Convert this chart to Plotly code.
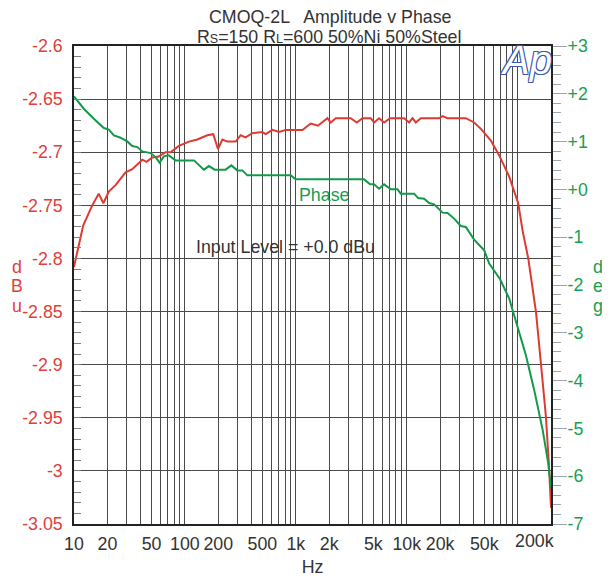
import math
import plotly.graph_objects as go

# ---- data ----
amp_freq = [10, 12.1, 14.6, 16.7, 18.4, 20.6, 23.7, 29.2, 33.5, 41.3,
            45.1, 50.8, 58.2, 66.9, 74.3, 88.3, 108.7, 129.4, 159.2, 180.3,
            198.6, 217.6, 241.5, 287, 318.5, 353, 405.7, 500, 535, 615,
            705, 811, 1148, 1362, 1585, 1927, 2065, 2291, 3128, 3546,
            3990, 4743, 5080, 5635, 6252, 7083, 9480, 10520, 11280, 12080,
            13400, 19600, 21030, 23330, 34120, 40550, 46640, 57410, 68230, 83970,
            101200, 111000, 124700, 146300, 162300, 180000, 192800, 200000]
amp_dbu = [-2.808, -2.769, -2.750, -2.739, -2.748, -2.737, -2.731, -2.719, -2.716, -2.707,
           -2.709, -2.705, -2.704, -2.700, -2.700, -2.694, -2.690, -2.688, -2.684, -2.683,
           -2.697, -2.688, -2.690, -2.690, -2.684, -2.686, -2.682, -2.681, -2.683, -2.679,
           -2.681, -2.679, -2.679, -2.673, -2.675, -2.668, -2.672, -2.668, -2.668, -2.672,
           -2.668, -2.668, -2.672, -2.668, -2.672, -2.668, -2.668, -2.672, -2.668, -2.672,
           -2.668, -2.668, -2.666, -2.668, -2.668, -2.672, -2.678, -2.689, -2.703, -2.723,
           -2.748, -2.774, -2.800, -2.850, -2.899, -2.949, -2.999, -3.035]

phase_freq = [10, 12.25, 15.1, 18.6, 20.6, 22.9, 26.3, 30.2, 33.5, 37.2,
              41.3, 49.0, 54.4, 59.1, 64.6, 71.7, 82.4, 120.6, 148.4, 164.7,
              185.4, 232.9, 262.2, 297, 329.6, 365.6, 899, 997, 4126, 4674,
              5080, 5635, 6252, 7180, 8255, 8845, 11670, 12680, 14360, 15930,
              17670, 21030, 23330, 26780, 30770, 34120, 40550, 49990, 55450, 69700,
              83970, 103300, 118800, 141200, 168300, 188900, 200000]
phase_deg = [1.945, 1.688, 1.479, 1.283, 1.250, 1.130, 1.082, 1.004, 0.906, 0.885,
             0.795, 0.760, 0.676, 0.559, 0.691, 0.712, 0.607, 0.607, 0.413, 0.488,
             0.413, 0.413, 0.503, 0.398, 0.398, 0.294, 0.294, 0.210, 0.210, 0.106,
             0.106, 0.016, 0.106, 0.001, 0.001, -0.089, -0.089, -0.181, -0.193, -0.285,
             -0.312, -0.486, -0.494, -0.611, -0.766, -0.787, -1.050, -1.274, -1.552, -1.886,
             -2.283, -3.015, -3.468, -4.200, -5.036, -5.732, -6.25]

x_tickvals = [10, 20, 50, 100, 200, 500, 1000, 2000, 5000, 10000, 20000, 50000, 200000]
x_ticktext = ["10", "20", "50", "100", "200", "500", "1k", "2k", "5k", "10k", "20k", "50k", "200k"]

y1_tickvals = [-2.6, -2.65, -2.7, -2.75, -2.8, -2.85, -2.9, -2.95, -3.0, -3.05]
y1_ticktext = ["-2.6", "-2.65", "-2.7", "-2.75", "-2.8", "-2.85", "-2.9", "-2.95", "-3", "-3.05"]

y2_tickvals = [3, 2, 1, 0, -1, -2, -3, -4, -5, -6, -7]
y2_ticktext = ["+3", "+2", "+1", "+0", "-1", "-2", "-3", "-4", "-5", "-6", "-7"]

# ---- styling ----
FONT = "Liberation Sans, Arial, sans-serif"
FS = 17.8
RED = "#dd3a32"
RED_TXT = "#e0403a"
GREEN = "#119a48"
GREEN_TXT = "#17a04e"
GRID = "#4a4a4a"
TXT = "#333333"

# minor vertical gridlines: every 1..9 multiple of each decade not already labelled
x_minor = [m * 10 ** d for d in range(1, 6) for m in range(1, 10)
           if m * 10 ** d <= 200000 and m * 10 ** d not in x_tickvals]

# the last tick label sits left-shifted against the right edge, as in the reference
axis_tickvals = x_tickvals[:-1]
axis_ticktext = x_ticktext[:-1]

fig = go.Figure()
fig.add_trace(go.Scatter(x=amp_freq, y=amp_dbu, mode="lines",
                         line=dict(color=RED, width=2), yaxis="y", showlegend=False))
fig.add_trace(go.Scatter(x=phase_freq, y=phase_deg, mode="lines",
                         line=dict(color=GREEN, width=2), yaxis="y2", showlegend=False))

# page body adds an 8px margin, so the figure is 8px smaller than the window
fig.update_layout(
    width=602, height=569,
    margin=dict(l=65.5, r=59, t=37.5, b=53, autoexpand=False),
    paper_bgcolor="white", plot_bgcolor="white",
    font=dict(family=FONT, size=FS, color=TXT),
    showlegend=False,
    xaxis=dict(
        type="log", range=[1, math.log10(x_tickvals[-1])], automargin=False,
        tickmode="array", tickvals=axis_tickvals, ticktext=axis_ticktext, tickangle=0,
        ticklabelstandoff=3,
        showgrid=True, gridcolor=GRID, gridwidth=1,
        ticks="", showline=True, linecolor="#222222", linewidth=1.5, mirror=True,
        tickfont=dict(family=FONT, size=FS, color=TXT),
        minor=dict(tickmode="array", tickvals=x_minor, showgrid=True,
                   gridcolor=GRID, gridwidth=1, ticks=""),
        title=dict(text="Hz", font=dict(family=FONT, size=FS, color=TXT), standoff=8),
        zeroline=False,
    ),
    yaxis=dict(
        range=[-3.05, -2.6], automargin=False,
        tickmode="array", tickvals=y1_tickvals, ticktext=y1_ticktext,
        showgrid=True, gridcolor=GRID, gridwidth=1,
        ticks="inside", ticklen=7, tickcolor="#808080", tickwidth=1,
        ticklabelstandoff=6,
        showline=True, linecolor="#222222", linewidth=1.5, mirror=True,
        tickfont=dict(family=FONT, size=FS, color=RED_TXT),
        minor=dict(tickmode="linear", tick0=-3.05, dtick=0.01, ticks="inside",
                   ticklen=7, tickcolor="#808080", tickwidth=1, showgrid=False),
        zeroline=False,
    ),
    yaxis2=dict(
        range=[-7, 3], overlaying="y", side="right", automargin=False,
        tickmode="array", tickvals=y2_tickvals, ticktext=y2_ticktext,
        showgrid=False, zeroline=False,
        ticks="outside", ticklen=14, tickcolor="#9aa6b4", tickwidth=1,
        ticklabelstandoff=-3,
        showline=True, linecolor="#222222", linewidth=2,
        tickfont=dict(family=FONT, size=FS, color=GREEN_TXT),
        minor=dict(tickmode="linear", tick0=-7, dtick=0.2, ticks="outside",
                   ticklen=8, tickcolor="#9aa6b4", tickwidth=1, showgrid=False),
    ),
)

annotations = [
    dict(text="CMOQ-2L &nbsp; Amplitude v Phase", x=0.537, y=1.0608,
         font=dict(family=FONT, size=FS, color=TXT)),
    dict(text="R<span style='font-size:12.5px'>S</span>=150 R<span style='font-size:12.5px'>L</span>=600 50%Ni 50%Steel",
         x=0.535, y=1.0190, font=dict(family=FONT, size=FS, color=TXT)),
    dict(text="Phase", x=0.525, y=0.689, font=dict(family=FONT, size=FS, color=GREEN_TXT)),
    dict(text="Input Level = +0.0 dBu", x=0.2515, y=0.580, xanchor="left",
         font=dict(family=FONT, size=FS, color=TXT)),
    dict(text="<i>Ap</i>", x=0.999, xshift=3, y=1.0205, xanchor="right", yanchor="top",
         font=dict(family="Liberation Sans, Arial", size=40, color="white",
                   shadow="1px 1px 0 #3a58b0, -1px -1px 0 #3a58b0, 1px -1px 0 #3a58b0, -1px 1px 0 #3a58b0")),
    # last x tick label, placed against the right edge
    dict(text=x_ticktext[-1], xref="x", x=math.log10(x_tickvals[-1]), xanchor="right",
         xshift=5, y=0, yanchor="middle", yshift=-16.5,
         font=dict(family=FONT, size=FS, color=TXT)),
]
# stacked axis unit labels
for i, ch in enumerate(["d", "B", "u"]):
    annotations.append(dict(text=ch, x=-0.1195, y=0.537 - i * 0.04,
                            font=dict(family=FONT, size=FS, color=RED_TXT)))
for i, ch in enumerate(["d", "e", "g"]):
    annotations.append(dict(text=ch, x=1.098, y=0.537 - i * 0.04,
                            font=dict(family=FONT, size=FS, color=GREEN_TXT)))

for a in annotations:
    a.setdefault("xref", "paper")
    a.setdefault("yref", "paper")
    a.setdefault("xanchor", "center")
    a.setdefault("yanchor", "middle")
    a["showarrow"] = False
fig.update_layout(annotations=annotations)

fig.write_html("out.html")
